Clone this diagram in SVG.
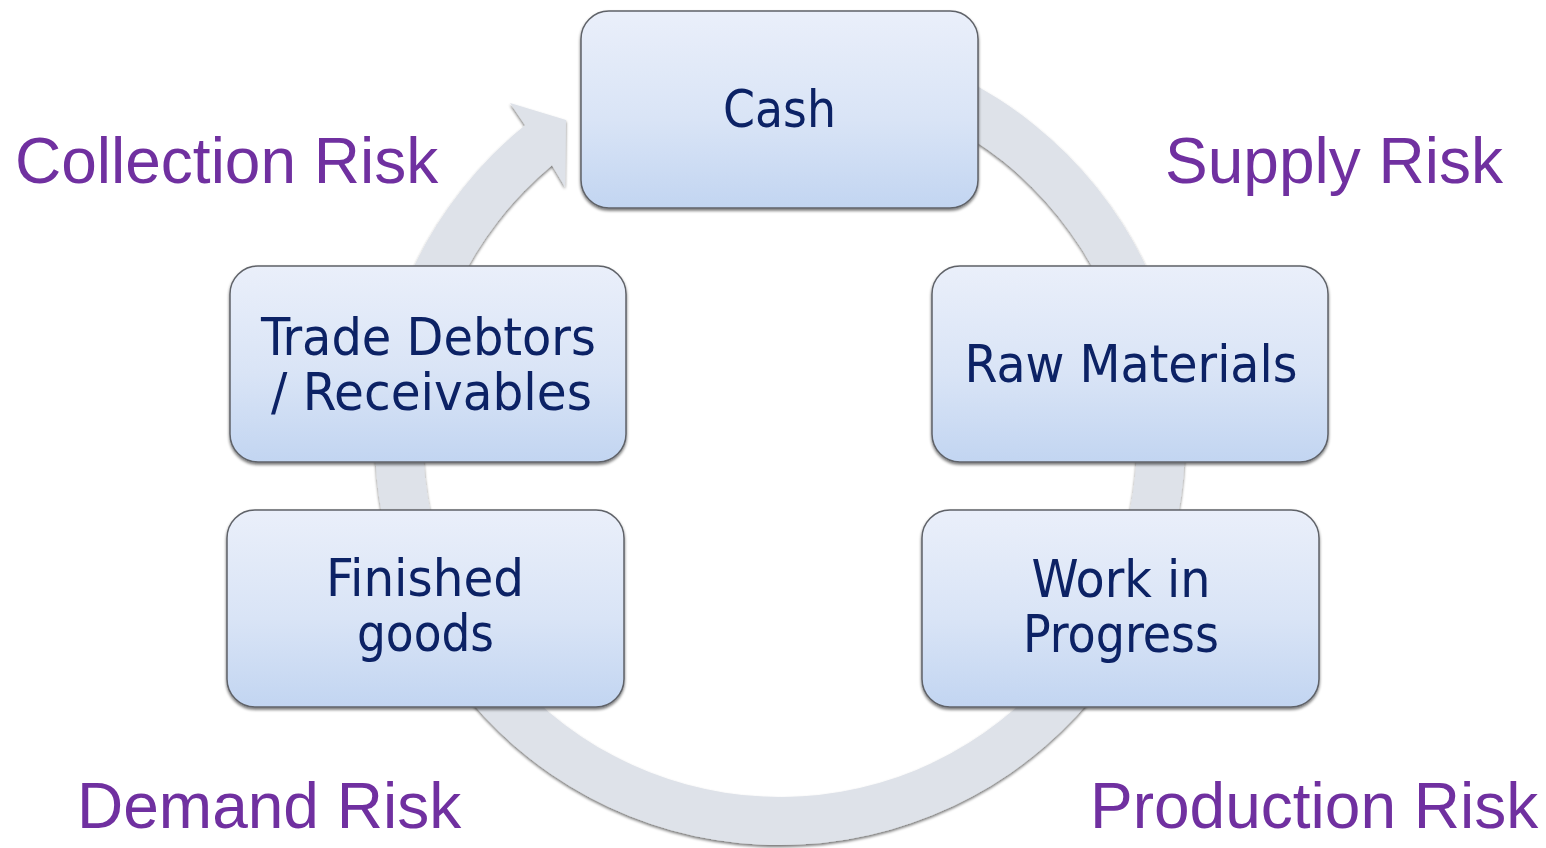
<svg xmlns="http://www.w3.org/2000/svg" width="1546" height="848" viewBox="0 0 1546 848">
  <defs>
    <linearGradient id="boxFill" x1="0" y1="0" x2="0" y2="1">
      <stop offset="0" stop-color="#eaeffa"/>
      <stop offset="0.55" stop-color="#d9e4f6"/>
      <stop offset="1" stop-color="#c2d5f1"/>
    </linearGradient>
    <filter id="soft" x="-10%" y="-10%" width="120%" height="125%">
      <feGaussianBlur in="SourceAlpha" stdDeviation="1.6"/>
      <feOffset dx="0" dy="1.5" result="b"/>
      <feComponentTransfer><feFuncA type="linear" slope="0.55"/></feComponentTransfer>
      <feMerge><feMergeNode/><feMergeNode in="SourceGraphic"/></feMerge>
    </filter>
    <style>
      .box { fill: url(#boxFill); stroke: #5f6268; stroke-width: 1.5; filter: url(#soft); }
      .lbl { font-family: "DejaVu Sans Condensed", "DejaVu Sans", sans-serif; font-stretch: condensed; font-size: 52px; fill: #0c2265; text-anchor: middle; }
      .risk { font-family: "Liberation Sans", Arial, sans-serif; font-size: 64px; fill: #7030a0; }
      .ring { fill: #dee2e9; filter: url(#soft); }
    </style>
  </defs>

  <rect width="1546" height="848" fill="#ffffff"/>

  <!-- circular flow arrow running clockwise back into Cash -->
  <g id="connectors">
    <path class="ring" d="M 918.5 59.4 A 405 405 0 1 1 525.1 125.3 L 510 103 L 566 120 L 565 187 L 552 165.3 A 357 357 0 1 0 902.1 104.5 Z"/>
  </g>

  <g id="cash">
    <rect class="box" x="581" y="11" width="397" height="197" rx="28"/>
    <text class="lbl" x="779.5" y="127" textLength="113" lengthAdjust="spacingAndGlyphs">Cash</text>
  </g>

  <g id="raw-materials">
    <rect class="box" x="932" y="266" width="396" height="196" rx="28"/>
    <text class="lbl" x="1131" y="382" textLength="333" lengthAdjust="spacingAndGlyphs">Raw Materials</text>
  </g>

  <g id="work-in-progress">
    <rect class="box" x="922" y="510" width="397" height="197" rx="28"/>
    <text class="lbl" x="1121" y="597" textLength="179" lengthAdjust="spacingAndGlyphs">Work in</text>
    <text class="lbl" x="1121" y="652" textLength="196" lengthAdjust="spacingAndGlyphs">Progress</text>
  </g>

  <g id="finished-goods">
    <rect class="box" x="227" y="510" width="397" height="197" rx="28"/>
    <text class="lbl" x="425" y="596" textLength="198" lengthAdjust="spacingAndGlyphs">Finished</text>
    <text class="lbl" x="425.5" y="651" textLength="137" lengthAdjust="spacingAndGlyphs">goods</text>
  </g>

  <g id="trade-debtors">
    <rect class="box" x="230" y="266" width="396" height="196" rx="28"/>
    <text class="lbl" x="428.5" y="355" textLength="335" lengthAdjust="spacingAndGlyphs">Trade Debtors</text>
    <text class="lbl" x="431.5" y="410" textLength="321" lengthAdjust="spacingAndGlyphs">/ Receivables</text>
  </g>

  <!-- risk captions around the cycle -->
  <g id="risks">
    <text class="risk" x="15" y="183">Collection Risk</text>
    <text class="risk" x="1165" y="183">Supply Risk</text>
    <text class="risk" x="77" y="828">Demand Risk</text>
    <text class="risk" x="1090" y="828">Production Risk</text>
  </g>
</svg>
